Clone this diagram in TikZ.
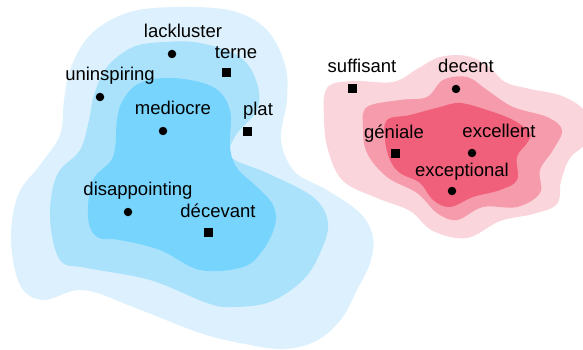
\documentclass[tikz,border=0pt]{standalone}
\usepackage{fontspec}
\setmainfont{Liberation Sans}
\definecolor{bA}{HTML}{DCF1FD}
\definecolor{bB}{HTML}{AAE2FC}
\definecolor{bC}{HTML}{76D4FD}
\definecolor{pA}{HTML}{FBD5DC}
\definecolor{pB}{HTML}{F59BAB}
\definecolor{pC}{HTML}{F0607A}
\tikzset{
  dotm/.style={circle,fill=black,minimum size=8.5pt,inner sep=0pt},
  sqm/.style={rectangle,fill=black,minimum size=9pt,inner sep=0pt},
  lbl/.style={anchor=base,inner sep=0pt,font=\fontsize{18.5}{20}\selectfont},
}
\begin{document}
\begin{tikzpicture}[x=1pt,y=-1pt]
\useasboundingbox (0,0) rectangle (583,350);
\begin{scope}
\clip (0,0) rectangle (583,350);
% blue cluster
\fill[bA] plot[smooth cycle,tension=0.6] coordinates {(180,7) (233,11) (267,30) (285,65) (287,100) (281,140) (295,172) (327,190) (360,213) (373,237) (370,263) (357,290) (342,318) (318,340) (285,349) (245,344) (200,333) (133,307) (83,290) (43,300) (20,285) (11,240) (18,195) (40,165) (60,135) (64,100) (71,67) (92,33) (130,12)};
\fill[bB] plot[smooth cycle,tension=0.6] coordinates {(200,43) (240,57) (257,83) (257,110) (236,135) (231,157) (267,173) (313,197) (328,223) (320,253) (303,280) (270,302) (232,307) (207,303) (150,280) (87,268) (60,260) (50,217) (57,175) (80,150) (89,120) (94,95) (107,67) (133,47) (165,42)};
\fill[bC] plot[smooth cycle,tension=0.6] coordinates {(173,78) (213,87) (230,110) (230,147) (237,168) (257,187) (273,205) (275,225) (263,250) (243,267) (200,270) (160,250) (120,240) (97,237) (88,217) (93,180) (113,157) (117,120) (123,100) (140,83)};
% pink cluster
\fill[pA] plot[smooth cycle,tension=0.6] coordinates {(327,88) (352,81) (393,82) (417,69) (440,57) (467,56) (488,66) (505,82) (530,89) (562,96) (585,112) (588,140) (570,158) (561,181) (557,204) (533,214) (500,221) (467,238) (433,231) (410,211) (377,198) (343,181) (328,150) (324,118)};
\fill[pB] plot[smooth cycle,tension=0.6] coordinates {(367,107) (400,100) (427,97) (443,80) (467,77) (487,90) (513,107) (547,117) (562,130) (553,150) (540,170) (540,193) (517,207) (483,207) (457,220) (437,213) (417,193) (387,177) (367,153) (363,127)};
\fill[pC] plot[smooth cycle,tension=0.6] coordinates {(387,120) (410,115) (440,107) (460,103) (487,110) (513,120) (530,133) (527,143) (517,157) (517,180) (500,190) (473,197) (450,207) (433,200) (420,183) (400,173) (390,160) (385,140)};
\end{scope}
% markers
\node[dotm] (mlack) at (172,54) {};
\node[sqm] (mterne) at (226,73) {};
\node[dotm] (munin) at (100,97) {};
\node[dotm] (mmed) at (163,131) {};
\node[sqm] (mplat) at (247,131) {};
\node[dotm] (mdis) at (128,212) {};
\node[sqm] (mdec) at (208,232) {};
\node[sqm] (msuff) at (352,89) {};
\node[dotm] (mdecent) at (456,89) {};
\node[sqm] (mgen) at (395,153) {};
\node[dotm] (mexc) at (472,153) {};
\node[dotm] (mexcp) at (452,191) {};
% labels
\node[lbl] (tlack) at (183,38) {lackluster};
\node[lbl] (tterne) at (236,59) {terne};
\node[lbl] (tunin) at (110,81) {uninspiring};
\node[lbl] (tmed) at (173,114) {mediocre};
\node[lbl] (tplat) at (258,116) {plat};
\node[lbl] (tdis) at (138,195) {disappointing};
\node[lbl] (tdec) at (218,217) {décevant};
\node[lbl] (tsuff) at (362,73) {suffisant};
\node[lbl] (tdecent) at (466,73) {decent};
\node[lbl] (tgen) at (394,139) {géniale};
\node[lbl] (texc) at (499,137) {excellent};
\node[lbl] (texcp) at (462,176) {exceptional};
\end{tikzpicture}
\end{document}
